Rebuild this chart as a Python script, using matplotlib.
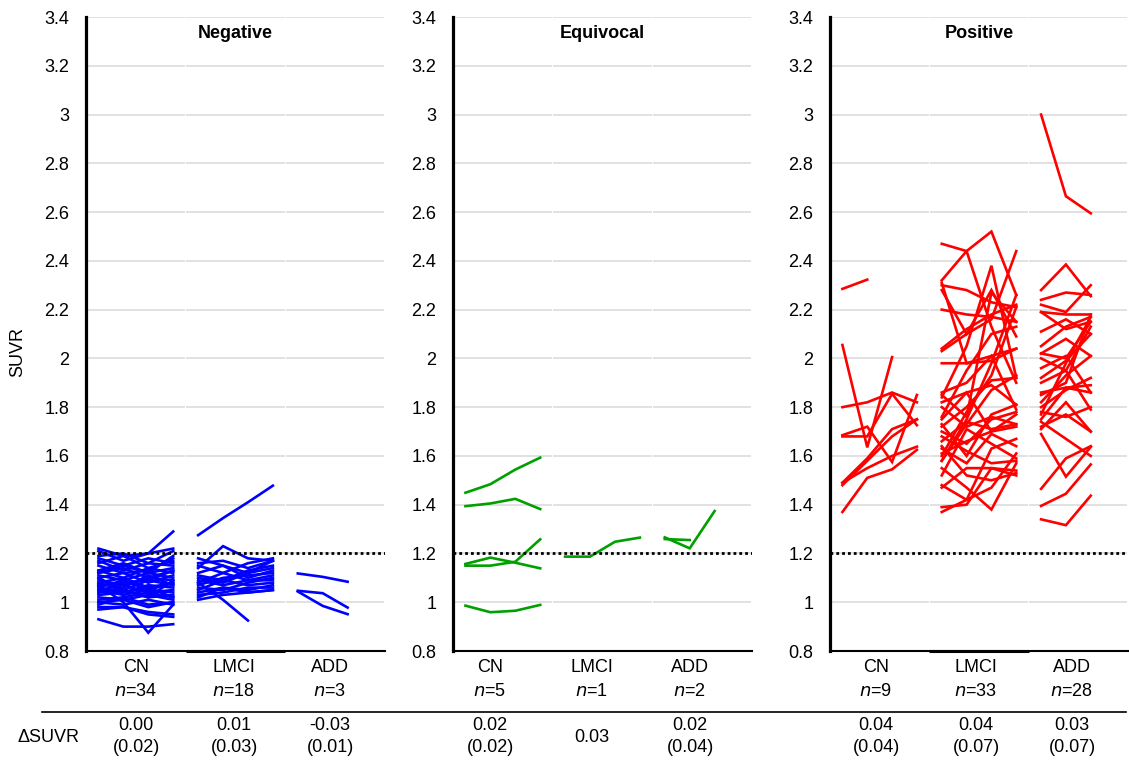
import numpy as np
import matplotlib
matplotlib.use("Agg")
import matplotlib.pyplot as plt
from matplotlib.lines import Line2D

plt.rcParams['font.family'] = ['Liberation Sans', 'DejaVu Sans']

# ---------------- data ----------------
groups = ["CN", "LMCI", "ADD"]
panels = ["Negative", "Equivocal", "Positive"]
panel_colors = ["#0000ff", "#00a000", "#ff0000"]

n_counts = [[34, 18, 3], [5, 1, 2], [9, 33, 28]]
delta_mean = [["0.00", "0.01", "-0.03"], ["0.02", "0.03", "0.02"], ["0.04", "0.04", "0.03"]]
delta_sd = [["(0.02)", "(0.03)", "(0.01)"], ["(0.02)", None, "(0.04)"], ["(0.04)", "(0.07)", "(0.07)"]]

# SUVR trajectories per subject (successive visits)
neg_cn = [
    [0.93, 0.90, 0.90, 0.91], [0.98, 0.98, 0.95, 0.94], [0.97, 0.98, 0.96, 0.95],
    [1.07, 1.00, 0.875, 0.99], [1.00, 1.01, 0.98, 1.00], [1.22, 1.19, 1.20, 1.29],
    [1.21, 1.17, 1.20, 1.22], [1.19, 1.20, 1.16, 1.21], [1.18, 1.15, 1.12, 1.19],
    [1.16, 1.19, 1.14, 1.17], [1.15, 1.12, 1.13, 1.18], [1.13, 1.10, 1.14, 1.12],
    [1.12, 1.14, 1.10, 1.13], [1.11, 1.09, 1.12, 1.10], [1.10, 1.12, 1.08, 1.11],
    [1.09, 1.07, 1.10, 1.09], [1.08, 1.10, 1.06, 1.08], [1.07, 1.08, 1.09, 1.07],
    [1.06, 1.04, 1.07, 1.06], [1.05, 1.07, 1.04, 1.05], [1.05, 1.03, 1.05, 1.04],
    [1.04, 1.05, 1.02, 1.03], [1.03, 1.04, 1.06, 1.02], [1.02, 1.01, 1.03, 1.01],
    [1.01, 1.02, 0.99, 1.00], [1.00, 0.99, 1.01, 0.99], [1.10, 1.05, 1.09, 1.13],
    [1.06, 1.09, 1.05, 1.08], [1.04, 1.06, 1.11, 1.07], [1.13, 1.16, 1.12, 1.14],
    [1.08, 1.05, 1.02, 1.09], [1.17, 1.13, 1.16, 1.15], [1.12, 1.15, 1.18, 1.16],
    [0.99, 1.02, 1.04, 1.02],
]
neg_lmci = [
    [1.275, 1.345, 1.41, 1.478], [1.14, 1.23, 1.18, 1.17], [1.18, 1.15, 1.12, 1.17],
    [1.15, 1.12, 1.16, 1.18], [1.16, 1.17, 1.14, 1.17], [1.12, 1.15, 1.10, 1.13],
    [1.10, 1.08, 1.12, 1.14], [1.08, 1.12, 1.09, 1.11], [1.07, 1.10, 1.11, 1.12],
    [1.06, 1.05, 1.08, 1.10], [1.05, 1.09, 1.07, 1.08], [1.04, 1.06, 1.05, 1.07],
    [1.03, 1.04, 1.06, 1.06], [1.02, 1.06, 1.04, 1.05], [1.08, 1.01, 0.925],
    [1.01, 1.03, 1.04, 1.05], [1.09, 1.07, 1.09, 1.09], [1.11, 1.09, 1.13, 1.15],
]
neg_add = [
    [1.118, 1.104, 1.084], [1.047, 1.037, 0.978], [1.044, 0.985, 0.951],
]
equ_cn = [
    [1.449, 1.484, 1.544, 1.593], [1.394, 1.405, 1.424, 1.382],
    [1.157, 1.183, 1.162, 1.139], [1.150, 1.150, 1.166, 1.258],
    [0.986, 0.959, 0.965, 0.989],
]
equ_lmci = [
    [1.187, 1.187, 1.248, 1.265],
]
equ_add = [
    [1.266, 1.221, 1.374], [1.259, 1.255],
]
pos_cn = [
    [2.285, 2.323], [2.055, 1.635, 2.005], [1.80, 1.82, 1.86, 1.82],
    [1.685, 1.72, 1.575, 1.85], [1.68, 1.68, 1.855, 1.726], [1.49, 1.59, 1.71, 1.75],
    [1.48, 1.58, 1.68, 1.75], [1.49, 1.55, 1.60, 1.638], [1.37, 1.51, 1.545, 1.625],
]
pos_lmci = [
    [2.47, 2.44, 2.13, 1.90], [2.32, 2.44, 2.52, 2.26], [2.30, 2.28, 2.23, 2.21],
    [2.31, 1.98, 2.01, 2.04], [2.20, 2.18, 2.17, 2.15], [2.04, 2.12, 2.18, 2.22],
    [2.03, 2.10, 2.16, 2.44], [1.98, 1.98, 1.99, 2.04], [1.86, 1.90, 2.01, 1.79],
    [1.85, 1.76, 2.27, 2.15], [1.84, 2.05, 2.38, 1.92], [1.82, 1.86, 1.89, 1.81],
    [1.75, 1.86, 1.70, 1.77], [1.73, 1.60, 1.77, 1.81], [1.70, 1.65, 1.75, 1.78],
    [1.66, 1.74, 1.71, 1.73], [1.63, 1.57, 1.69, 1.64], [1.61, 1.66, 1.70, 1.72],
    [1.60, 1.78, 1.93, 2.21], [1.58, 1.75, 1.98, 2.26], [1.55, 1.47, 1.38, 1.57],
    [1.47, 1.55, 1.55, 1.52], [1.39, 1.40, 1.55, 1.54], [1.37, 1.42, 1.63, 1.67],
    [1.48, 1.42, 1.47, 1.61], [2.28, 2.10, 2.28, 2.09], [1.80, 1.72, 1.76, 1.73],
    [1.76, 1.95, 2.10, 2.13], [1.64, 1.52, 1.50, 1.53], [1.52, 1.71, 1.65, 1.59],
    [1.58, 1.73, 1.87, 1.93], [1.68, 1.62, 1.57, 1.58], [1.72, 1.80, 1.91, 1.92],
]
pos_add = [
    [3.00, 2.665, 2.595], [2.28, 2.385, 2.255], [2.24, 2.27, 2.26], [2.22, 2.19, 2.30],
    [2.19, 2.18, 2.18], [2.19, 2.12, 2.15], [2.11, 2.16, 2.10], [2.05, 2.13, 2.17],
    [2.02, 2.00, 2.15], [2.00, 1.95, 2.13], [1.96, 2.01, 1.86], [1.92, 1.99, 2.10],
    [1.90, 1.95, 1.79], [1.86, 1.88, 1.89], [1.82, 1.93, 2.01], [1.80, 1.87, 1.92],
    [1.77, 1.98, 2.17], [1.75, 1.88, 1.86], [1.72, 1.77, 1.70], [1.71, 1.82, 1.70],
    [1.69, 1.515, 1.637], [1.465, 1.59, 1.64], [1.395, 1.445, 1.565], [1.34, 1.316, 1.437],
    [2.02, 2.08, 2.01], [1.78, 1.76, 1.80], [1.85, 1.90, 2.18], [1.74, 1.67, 1.60],
]

panel_data = [
    [neg_cn, neg_lmci, neg_add],
    [equ_cn, equ_lmci, equ_add],
    [pos_cn, pos_lmci, pos_add],
]

y_ticks = [0.8, 1.0, 1.2, 1.4, 1.6, 1.8, 2.0, 2.2, 2.4, 2.6, 2.8, 3.0, 3.2, 3.4]
threshold = 1.2
visits_per_group = 4

# ---------------- layout ----------------
W, H = 1129, 762
fig = plt.figure(figsize=(W / 100, H / 100), dpi=100)

def fx(px):
    return px / W

def fy(py):
    return 1 - py / H

ax_left = [86, 453, 830]
ax_right = [385, 752, 1128]
ax_top, ax_bottom = 17, 651
# horizontal centres of the text columns under each panel
label_x = [[136, 234, 330], [490, 592, 690], [876, 976, 1072]]
FS = 13

for p in range(3):
    ax = fig.add_axes([fx(ax_left[p]), fy(ax_bottom),
                       fx(ax_right[p] - ax_left[p]), (ax_bottom - ax_top) / H])
    ax.set_xlim(0, 3)
    ax.set_ylim(0.8, 3.4)
    ax.set_yticks(y_ticks)
    ax.set_yticklabels([f"{t:g}" for t in y_ticks], fontsize=FS)
    ax.tick_params(axis='y', length=0, pad=12)
    ax.set_xticks([])
    for s in ("top", "right"):
        ax.spines[s].set_visible(False)
    ax.spines["left"].set_linewidth(2.3)
    ax.spines["bottom"].set_linewidth(1.5)

    # gridlines, broken slightly at each group boundary
    for c in range(3):
        ax.hlines(y_ticks[1:], c + 0.006, c + 0.994, colors="#d9d9d9",
                  linewidth=1.1, zorder=0.5)

    # subject trajectories
    for c, subjects in enumerate(panel_data[p]):
        for vals in subjects:
            xs = c + (np.arange(len(vals)) + 0.5) / visits_per_group
            ax.plot(xs, vals, color=panel_colors[p], linewidth=1.9,
                    solid_joinstyle="miter", zorder=2)

    # positivity threshold
    ax.axhline(threshold, color="black", linestyle=(0, (1, 1.1)),
               linewidth=2.0, zorder=3)

    if p != 1:
        ax.hlines(0.8, 1, 2, colors="black", linewidth=2.2, clip_on=False, zorder=4)

    ax.text(0.5, (ax_bottom - 34) / (ax_bottom - ax_top), panels[p],
            transform=ax.transAxes, ha="center", va="center", fontsize=FS,
            fontweight="bold")

    # group labels, counts and change in SUVR
    for c in range(3):
        xc = label_x[p][c]
        fig.text(fx(xc), fy(667), groups[c], ha="center", va="center", fontsize=FS)
        fig.text(fx(xc), fy(692), f"$\\mathit{{n}}$={n_counts[p][c]}", ha="center",
                 va="center", fontsize=FS)
        if delta_sd[p][c] is None:
            fig.text(fx(xc), fy(737), delta_mean[p][c], ha="center", va="center",
                     fontsize=FS)
        else:
            fig.text(fx(xc), fy(726), delta_mean[p][c], ha="center", va="center",
                     fontsize=FS)
            fig.text(fx(xc), fy(747), delta_sd[p][c], ha="center", va="center",
                     fontsize=FS)

fig.text(fx(18), fy(352), "SUVR", rotation=90, ha="center", va="center", fontsize=FS)
fig.add_artist(Line2D([fx(42), fx(1126)], [fy(712), fy(712)], color="black",
                      linewidth=1.2))
fig.text(fx(18), fy(737), "ΔSUVR", ha="left", va="center", fontsize=FS)

fig.savefig("out.png", dpi=100)
